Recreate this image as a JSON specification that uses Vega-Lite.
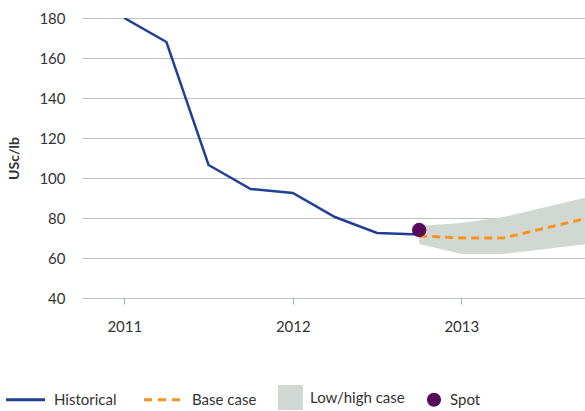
{
  "$schema": "https://vega.github.io/schema/vega-lite/v6.json",
  "width": 503,
  "height": 280,
  "autosize": "none",
  "padding": {"left": 82, "top": 18, "right": 0, "bottom": 113},
  "background": "white",
  "config": {
    "view": {"stroke": null},
    "font": "Lato",
    "axis": {"labelFont": "Lato", "labelFontSize": 15, "labelColor": "#333333", "titleFont": "Lato"},
    "legend": {"labelFont": "Lato", "labelFontSize": 15, "labelColor": "#333333"}
  },
  "datasets": {
    "historical": [
      {"t": 2011.0, "value": 180, "series": "Historical"},
      {"t": 2011.25, "value": 168, "series": "Historical"},
      {"t": 2011.5, "value": 106.5, "series": "Historical"},
      {"t": 2011.75, "value": 94.5, "series": "Historical"},
      {"t": 2012.0, "value": 92.5, "series": "Historical"},
      {"t": 2012.25, "value": 80.5, "series": "Historical"},
      {"t": 2012.5, "value": 72.5, "series": "Historical"},
      {"t": 2012.75, "value": 71.8, "series": "Historical"}
    ],
    "base": [
      {"t": 2012.75, "value": 71, "series": "Base case"},
      {"t": 2013.0, "value": 70, "series": "Base case"},
      {"t": 2013.25, "value": 70, "series": "Base case"},
      {"t": 2013.75, "value": 80, "series": "Base case"}
    ],
    "band": [
      {"t": 2012.75, "low": 67, "high": 76, "series": "Low/high case"},
      {"t": 2013.0, "low": 62, "high": 77.5, "series": "Low/high case"},
      {"t": 2013.25, "low": 62, "high": 80.5, "series": "Low/high case"},
      {"t": 2013.75, "low": 67, "high": 90.5, "series": "Low/high case"}
    ],
    "spot": [
      {"t": 2012.75, "value": 74, "series": "Spot"}
    ]
  },
  "encoding": {
    "x": {
      "field": "t", "type": "quantitative",
      "scale": {"domain": [2010.749, 2013.734], "nice": false, "zero": false},
      "axis": {
        "title": null, "values": [2011, 2012, 2013], "format": "d",
        "grid": false, "domain": false, "tickColor": "#a9aeae", "tickSize": 6,
        "labelPadding": 15
      }
    },
    "color": {
      "field": "series", "type": "nominal",
      "scale": {
        "domain": ["Historical", "Base case", "Low/high case", "Spot"],
        "range": ["#213f96", "#f7941d", "#d1d8d3", "#560b5b"]
      },
      "legend": {
        "title": null, "orient": "none", "direction": "horizontal",
        "legendX": -76, "legendY": 372, "columns": 4, "columnPadding": 21,
        "symbolSize": 1521, "labelOffset": 8, "padding": 0,
        "encode": {
          "symbols": {
            "update": {
              "shape": {"signal": "datum.value === 'Historical' || datum.value === 'Base case' ? 'stroke' : (datum.value === 'Spot' ? 'circle' : 'square')"},
              "size": {"signal": "datum.value === 'Spot' ? 200 : (datum.value === 'Low/high case' ? 625 : 1521)"},
              "x": {"signal": "datum.value === 'Spot' ? 8 : (datum.value === 'Low/high case' ? 12.5 : 19.5)"},
              "strokeDash": {"signal": "datum.value === 'Base case' ? [8, 6] : [1, 0]"},
              "strokeWidth": {"signal": "datum.value === 'Historical' || datum.value === 'Base case' ? 3 : 0"},
              "stroke": {"signal": "scale('color', datum.value)"},
              "fill": {"signal": "scale('color', datum.value)"},
              "opacity": {"value": 1},
              "fillOpacity": {"value": 1},
              "strokeOpacity": {"value": 1}
            }
          },
          "labels": {
            "update": {
              "x": {"signal": "datum.value === 'Spot' ? 24 : (datum.value === 'Low/high case' ? 32 : 48)"}
            }
          }
        }
      }
    }
  },
  "layer": [
    {
      "data": {"name": "band"},
      "mark": {"type": "area", "clip": true, "opacity": 1},
      "encoding": {
        "y": {
          "field": "low", "type": "quantitative",
          "scale": {"domain": [40, 180], "nice": false},
          "axis": {
            "title": "USc/lb", "titleFontSize": 14, "titleFontWeight": "bold", "titleColor": "#333333",
            "titlePadding": 17, "values": [40, 60, 80, 100, 120, 140, 160, 180], "labelOverlap": false,
            "domain": false, "ticks": false, "labelPadding": 17,
            "grid": true, "gridColor": "#bcc2c2", "gridWidth": 1.2
          }
        },
        "y2": {"field": "high"}
      }
    },
    {
      "data": {"name": "historical"},
      "mark": {"type": "line", "strokeWidth": 2.5, "clip": true},
      "encoding": {"y": {"field": "value", "type": "quantitative", "axis": {
            "title": "USc/lb", "titleFontSize": 14, "titleFontWeight": "bold", "titleColor": "#333333",
            "titlePadding": 17, "values": [40, 60, 80, 100, 120, 140, 160, 180], "labelOverlap": false,
            "domain": false, "ticks": false, "labelPadding": 17,
            "grid": true, "gridColor": "#bcc2c2", "gridWidth": 1.2
          }}}
    },
    {
      "data": {"name": "base"},
      "mark": {"type": "line", "strokeWidth": 3, "strokeDash": [8, 5], "clip": true},
      "encoding": {"y": {"field": "value", "type": "quantitative", "axis": {
            "title": "USc/lb", "titleFontSize": 14, "titleFontWeight": "bold", "titleColor": "#333333",
            "titlePadding": 17, "values": [40, 60, 80, 100, 120, 140, 160, 180], "labelOverlap": false,
            "domain": false, "ticks": false, "labelPadding": 17,
            "grid": true, "gridColor": "#bcc2c2", "gridWidth": 1.2
          }}}
    },
    {
      "data": {"name": "spot"},
      "mark": {"type": "point", "filled": true, "size": 210, "opacity": 1, "shape": "circle"},
      "encoding": {"y": {"field": "value", "type": "quantitative", "axis": {
            "title": "USc/lb", "titleFontSize": 14, "titleFontWeight": "bold", "titleColor": "#333333",
            "titlePadding": 17, "values": [40, 60, 80, 100, 120, 140, 160, 180], "labelOverlap": false,
            "domain": false, "ticks": false, "labelPadding": 17,
            "grid": true, "gridColor": "#bcc2c2", "gridWidth": 1.2
          }}}
    }
  ]
}
